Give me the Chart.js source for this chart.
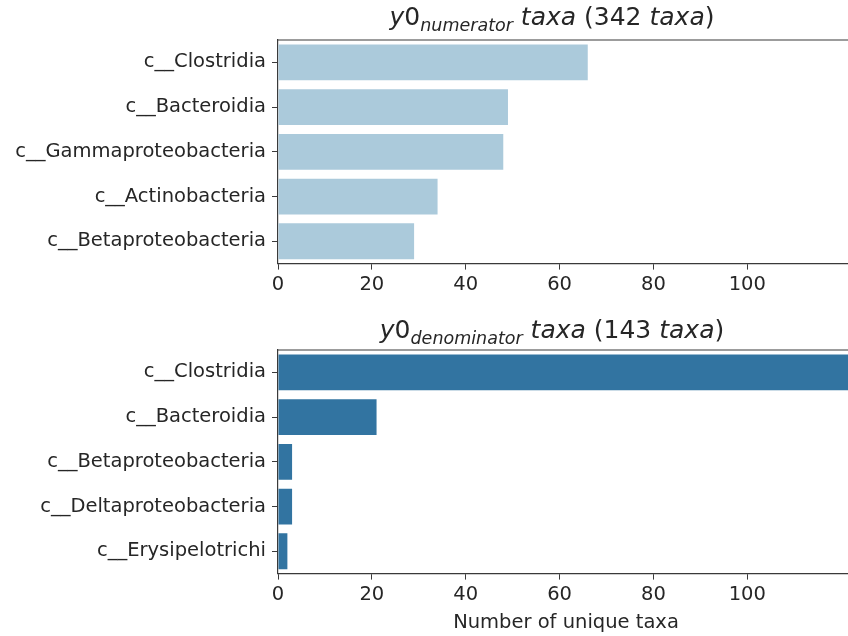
<!DOCTYPE html>
<html>
<head>
<meta charset="utf-8">
<script src="https://cdn.jsdelivr.net/npm/chart.js@4.4.1/dist/chart.umd.min.js"></script>
<style>
  html, body { margin: 0; padding: 0; background: #fff; overflow: hidden; }
  #wrap { width: 848px; height: 636px; overflow: hidden; }
  .box { width: 1104px; height: 318px; position: relative; }
</style>
</head>
<body>
<div id="wrap">
  <div class="box"><canvas id="chart-num"></canvas></div>
  <div class="box"><canvas id="chart-den"></canvas></div>
</div>
<script>
// data
const xTicks = [0, 20, 40, 60, 80, 100];

const numCategories = ["c__Clostridia", "c__Bacteroidia", "c__Gammaproteobacteria", "c__Actinobacteria", "c__Betaproteobacteria"];
const numCounts = [66, 49, 48, 34, 29];
const numTotal = 342;

const denCategories = ["c__Clostridia", "c__Bacteroidia", "c__Betaproteobacteria", "c__Deltaproteobacteria", "c__Erysipelotrichi"];
const denCounts = [125, 21, 3, 3, 2];
const denTotal = 143;

const FONT = "'DejaVu Sans', sans-serif";
const TEXT = "#262626";
const AXIS = "#3a3a3a";
const TICK_SIZE = 19.5;

// title with italic / subscript parts (matplotlib mathtext look) + x label
let mathTitle = {
  id: "mathTitle",
  afterDraw: function (chart, args, opts) {
    let ctx = chart.ctx;
    let size = opts.size;
    let parts = opts.parts;
    let fontOf = function (p) {
      let s = p.sub ? size * 0.7 : size;
      return (p.italic ? "italic " : "") + s + "px " + FONT;
    };
    ctx.save();
    let total = 0;
    parts.forEach(function (p) {
      ctx.font = fontOf(p);
      total += ctx.measureText(p.t).width;
    });
    let x = chart.width / 2 - total / 2;
    ctx.fillStyle = TEXT;
    ctx.textBaseline = "alphabetic";
    parts.forEach(function (p) {
      ctx.font = fontOf(p);
      ctx.fillText(p.t, x, opts.y + (p.sub ? size * 0.22 : 0));
      x += ctx.measureText(p.t).width;
    });

    if (opts.xLabel) {
      ctx.font = TICK_SIZE + "px " + FONT;
      ctx.textAlign = "center";
      ctx.textBaseline = "middle";
      ctx.fillText(opts.xLabel, chart.width / 2 + 14, opts.xLabelY);
    }
    ctx.restore();
  },
};

// top spine of the axes box
let topSpine = {
  id: "topSpine",
  afterDraw: function (chart) {
    let a = chart.chartArea;
    let ctx = chart.ctx;
    ctx.save();
    ctx.strokeStyle = AXIS;
    ctx.lineWidth = 1.2;
    ctx.beginPath();
    ctx.moveTo(a.left, a.top);
    ctx.lineTo(a.right, a.top);
    ctx.stroke();
    ctx.restore();
  },
};

let makeChart = function (id, labels, values, color, cfg) {
  return new Chart(document.getElementById(id).getContext("2d"), {
    type: "bar",
    data: {
      labels: labels,
      datasets: [
        {
          data: values,
          backgroundColor: color,
          borderWidth: 0,
          barPercentage: 0.8,
          categoryPercentage: 1,
        },
      ],
    },
    options: {
      indexAxis: "y",
      responsive: false,
      animation: false,
      layout: { padding: cfg.padding },
      plugins: {
        legend: { display: false },
        tooltip: { enabled: false },
        mathTitle: {
          parts: cfg.title,
          size: 25,
          y: cfg.titleY,
          xLabel: cfg.xLabel,
          xLabelY: cfg.xLabelY,
        },
      },
      scales: {
        x: {
          min: 0,
          max: 176,
          afterBuildTicks: function (scale) {
            scale.ticks = xTicks.map(function (v) { return { value: v }; });
          },
          ticks: { font: { family: FONT, size: TICK_SIZE }, color: TEXT, padding: 4, maxRotation: 0 },
          grid: { drawOnChartArea: false, tickLength: 6, color: AXIS },
          border: { color: AXIS, width: 1.2 },
        },
        y: {
          afterFit: function (scale) {
            scale.width = 278;
          },
          ticks: { font: { family: FONT, size: TICK_SIZE }, color: TEXT, padding: 6 },
          grid: { drawOnChartArea: false, offset: false, tickLength: 6, color: AXIS },
          border: { color: AXIS, width: 1.2 },
        },
      },
    },
    plugins: [mathTitle, topSpine],
  });
};

let drawCharts = function () {
  makeChart("chart-num", numCategories, numCounts, "#abcadb", {
    padding: { top: 40, bottom: 17, left: 0, right: 0 },
    titleY: 25,
    xLabel: "",
    title: [
      { t: "y", italic: true },
      { t: "0" },
      { t: "numerator", italic: true, sub: true },
      { t: " taxa", italic: true },
      { t: " (" + numTotal + " " },
      { t: "taxa", italic: true },
      { t: ")" },
    ],
  });
  makeChart("chart-den", denCategories, denCounts, "#3274a1", {
    padding: { top: 32, bottom: 25, left: 0, right: 0 },
    titleY: 20,
    xLabel: "Number of unique taxa",
    xLabelY: 305,
    title: [
      { t: "y", italic: true },
      { t: "0" },
      { t: "denominator", italic: true, sub: true },
      { t: " taxa", italic: true },
      { t: " (" + denTotal + " " },
      { t: "taxa", italic: true },
      { t: ")" },
    ],
  });
};

document.querySelectorAll("canvas").forEach(function (c) {
  c.width = 1104;
  c.height = 318;
});
drawCharts();
</script>
</body>
</html>
